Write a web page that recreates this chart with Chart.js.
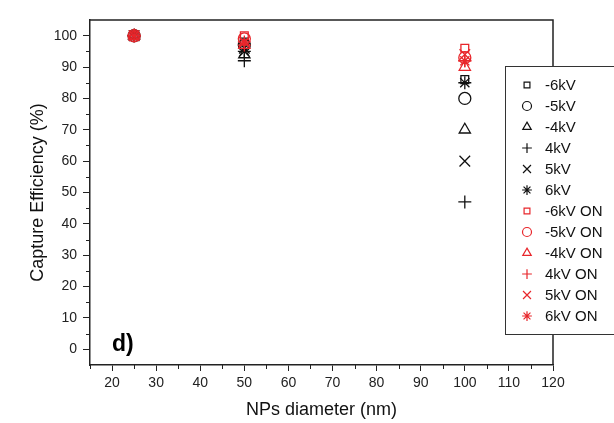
<!DOCTYPE html>
<html>
<head>
<meta charset="utf-8">
<script src="https://cdn.jsdelivr.net/npm/chart.js@4/dist/chart.umd.min.js"></script>
<style>
  html, body { margin: 0; padding: 0; background: #fff; }
  #wrap { width: 614px; height: 423px; }
</style>
</head>
<body>
<div id="wrap"><canvas id="myChart" width="614" height="423"></canvas></div>
<script>
// NP diameters (nm)
const diameters = [25, 50, 100];

// capture efficiency (%) per voltage
const neg6kV = [100, 98, 86];
const neg5kV = [100, 97, 80];
const neg4kV = [100, 94, 70];
const pos4kV = [100, 92, 47];
const pos5kV = [100, 96, 60];
const pos6kV = [100, 95, 85];
const neg6kVOn = [100, 100, 96];
const neg5kVOn = [100, 99, 93];
const neg4kVOn = [100, 97, 90];
const pos4kVOn = [100, 97, 92];
const pos5kVOn = [100, 98, 94];
const pos6kVOn = [100, 98, 92];

const xTicks = [20, 30, 40, 50, 60, 70, 80, 90, 100, 110, 120];
const yTicks = [0, 10, 20, 30, 40, 50, 60, 70, 80, 90, 100];

const seriesLabels = ['-6kV', '-5kV', '-4kV', '4kV', '5kV', '6kV',
    '-6kV ON', '-5kV ON', '-4kV ON', '4kV ON', '5kV ON', '6kV ON'];
const seriesData = [neg6kV, neg5kV, neg4kV, pos4kV, pos5kV, pos6kV,
    neg6kVOn, neg5kVOn, neg4kVOn, pos4kVOn, pos5kVOn, pos6kVOn];
const markers = ['rect', 'circle', 'triangle', 'cross', 'crossRot', 'star'];
const markerSize = [5.5, 6, 6.5, 6.5, 7.5, 6.5];

const BLACK = '#111';
const RED = '#e8262b';
const NONE = 'rgba(0,0,0,0)';

const datasets = seriesLabels.map((label, i) => {
    const red = i >= 6;
    return {
        label: label,
        data: seriesData[i].map((v, j) => ({x: diameters[j], y: v})),
        pointStyle: markers[i % 6],
        pointRadius: markerSize[i % 6],
        pointBorderWidth: 1.3,
        borderColor: red ? RED : BLACK,
        pointBorderColor: red ? RED : BLACK,
        backgroundColor: NONE,
        pointBackgroundColor: NONE,
        showLine: false,
        order: red ? 12 - i : 20 - i
    };
});

// frame, minor ticks, panel letter and the boxed legend
const decor = {
    id: 'decor',
    afterDraw(chart) {
        const ctx = chart.ctx;
        const a = chart.chartArea;
        const xs = chart.scales.x, ys = chart.scales.y;
        ctx.save();
        ctx.strokeStyle = '#222';
        ctx.lineWidth = 1.5;
        ctx.beginPath();
        ctx.moveTo(a.left, a.top); ctx.lineTo(a.right, a.top); ctx.lineTo(a.right, a.bottom);
        ctx.stroke();

        ctx.lineWidth = 1;
        ctx.beginPath();
        for (let v = 15; v < 120; v += 10) {
            const px = Math.round(xs.getPixelForValue(v)) + 0.5;
            ctx.moveTo(px, a.bottom); ctx.lineTo(px, a.bottom + 4);
        }
        for (let v = 5; v < 105; v += 10) {
            const py = Math.round(ys.getPixelForValue(v)) + 0.5;
            ctx.moveTo(a.left, py); ctx.lineTo(a.left - 4, py);
        }
        ctx.stroke();

        ctx.fillStyle = '#000';
        ctx.font = 'bold 23px "Liberation Sans", Arial, sans-serif';
        ctx.textBaseline = 'alphabetic';
        ctx.fillText('d)', xs.getPixelForValue(20), ys.getPixelForValue(-0.5));

        // legend box
        const lx = 505, ly = 66, lh = 268;
        ctx.fillStyle = '#fff';
        ctx.fillRect(lx, ly, 130, lh);
        ctx.strokeStyle = '#333';
        ctx.lineWidth = 1;
        ctx.strokeRect(lx + 0.5, ly + 0.5, 130, lh);
        ctx.font = '15px "Liberation Sans", Arial, sans-serif';
        ctx.textBaseline = 'middle';
        chart.data.datasets.forEach((ds, i) => {
            const y = 85 + i * 21;
            ctx.fillStyle = NONE;
            ctx.strokeStyle = ds.borderColor;
            ctx.lineWidth = 1.2;
            Chart.helpers.drawPoint(ctx, {
                pointStyle: ds.pointStyle, radius: ds.pointRadius * 0.75, rotation: 0,
                borderWidth: 1.2
            }, 527, y);
            ctx.fillStyle = '#111';
            ctx.fillText(ds.label, 545, y + 1);
        });
        ctx.restore();
    }
};

const tickFont = {family: '"Liberation Sans", Arial, sans-serif', size: 14};
const titleFont = {family: '"Liberation Sans", Arial, sans-serif', size: 18};

const ctx = document.getElementById('myChart').getContext('2d');
const chart = new Chart(ctx, {
    type: 'scatter',
    data: {datasets: datasets},
    options: {
        responsive: false,
        animation: false,
        layout: {padding: {top: 20, right: 61, left: 0, bottom: 0}},
        plugins: {legend: {display: false}, tooltip: {enabled: false}},
        scales: {
            x: {
                type: 'linear', min: 15, max: 120,
                ticks: {color: '#222', font: tickFont, padding: 4},
                afterBuildTicks: s => { s.ticks = xTicks.map(v => ({value: v})); },
                afterFit: s => { s.height = 58; },
                grid: {drawOnChartArea: false, tickLength: 6, color: '#222'},
                border: {color: '#222', width: 1.5},
                title: {display: true, text: 'NPs diameter (nm)', color: '#111', font: titleFont, padding: {top: 0, bottom: 2}}
            },
            y: {
                type: 'linear', min: -5, max: 105,
                ticks: {color: '#222', font: tickFont, padding: 6},
                afterBuildTicks: s => { s.ticks = yTicks.map(v => ({value: v})); },
                afterFit: s => { s.width = 90; },
                grid: {drawOnChartArea: false, tickLength: 7, color: '#222'},
                border: {color: '#222', width: 1.5},
                title: {display: true, text: 'Capture Efficiency (%)', color: '#111', font: titleFont, padding: {top: 27, bottom: 0}}
            }
        }
    },
    plugins: [decor]
});
</script>
</body>
</html>
